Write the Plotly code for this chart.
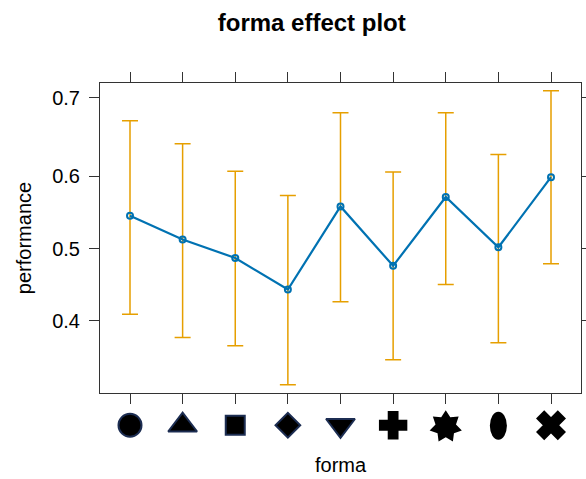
import numpy as np
import plotly.graph_objects as go

# ---- data ----
forma_levels = ["circle", "triangle", "square", "diamond", "triangle_down",
                "cross", "star", "ellipse", "x"]
fit = [0.546, 0.513, 0.487, 0.443, 0.559, 0.476, 0.572, 0.502, 0.599]
lower = [0.409, 0.378, 0.367, 0.318, 0.426, 0.349, 0.450, 0.371, 0.479]
upper = [0.672, 0.643, 0.607, 0.574, 0.682, 0.606, 0.682, 0.629, 0.708]
y_tick_values = [0.4, 0.5, 0.6, 0.7]
y_tick_labels = ["0.4", "0.5", "0.6", "0.7"]
y_limits = [0.308, 0.717]

def logit(p):
    p = np.asarray(p, dtype=float)
    return np.log(p / (1 - p))

xs = np.arange(1, len(forma_levels) + 1)
lf, ll, lu = logit(fit), logit(lower), logit(upper)
ylo, yhi = logit(y_limits)

BLUE = "#0072B2"
ORANGE = "#E69F00"
NAVY = "#1c2d52"
FONT = "Liberation Sans, Arial, sans-serif"

fig = go.Figure()

# error bars (drawn first, under the line)
fig.add_trace(go.Scatter(
    x=xs, y=lf, mode="markers",
    marker=dict(size=1, opacity=0),
    error_y=dict(type="data", symmetric=False, array=lu - lf, arrayminus=lf - ll,
                 color=ORANGE, thickness=1.5, width=8),
    hoverinfo="skip", showlegend=False))

# fitted line
fig.add_trace(go.Scatter(
    x=xs, y=lf, mode="lines+markers",
    line=dict(color=BLUE, width=2.2),
    marker=dict(symbol="circle-open", size=6, color=BLUE, line=dict(width=2, color=BLUE)),
    showlegend=False))

# level glyphs used as tick labels, in a thin band (yaxis2) under the plot
sym_map = {"circle": "circle", "triangle": "triangle-up", "square": "square",
           "diamond": "diamond", "triangle_down": "triangle-down", "cross": "cross",
           "x": "x"}
size_map = {"circle": 23, "triangle": 25, "square": 19, "diamond": 19,
            "triangle_down": 25, "cross": 22, "x": 24}
outline_map = {"circle": NAVY, "triangle": NAVY, "square": NAVY, "diamond": NAVY,
               "triangle_down": NAVY, "cross": "#000000", "x": "#000000"}
sel = [i for i, f in enumerate(forma_levels) if f in sym_map]
GLYPH_Y = 0.38
fig.add_trace(go.Scatter(
    x=xs[sel], y=[GLYPH_Y] * len(sel), mode="markers", xaxis="x", yaxis="y2",
    opacity=1,
    marker=dict(symbol=[sym_map[forma_levels[i]] for i in sel],
                size=[size_map[forma_levels[i]] for i in sel],
                color="#000000", opacity=1,
                line=dict(width=2, color=[outline_map[forma_levels[i]] for i in sel])),
    hoverinfo="skip", showlegend=False))

shapes = []
# ellipse glyph
ix_e = forma_levels.index("ellipse") + 1
shapes.append(dict(type="circle", xref="x", yref="y2", xsizemode="pixel", ysizemode="pixel",
                   xanchor=ix_e, yanchor=GLYPH_Y, x0=-8.5, x1=8.5, y0=-14.5, y1=13.5,
                   fillcolor="black", line=dict(width=0)))
# 7-point star glyph
ix_s = forma_levels.index("star") + 1
n, R, r = 7, 16.5, 10.5
ang = np.pi / 2 + np.arange(2 * n) * np.pi / n
rad = np.where(np.arange(2 * n) % 2 == 0, R, r)
pts = ["%.2f,%.2f" % (rr * np.cos(a), rr * np.sin(a) - 1.5) for rr, a in zip(rad, ang)]
shapes.append(dict(type="path", xref="x", yref="y2", xsizemode="pixel", ysizemode="pixel",
                   xanchor=ix_s, yanchor=GLYPH_Y, path="M" + "L".join(pts) + "Z",
                   fillcolor="black", line=dict(width=0)))

axis_common = dict(showline=True, linecolor="#333333", linewidth=1, mirror="ticks",
                   ticks="outside", ticklen=10, tickcolor="#333333", showgrid=False,
                   zeroline=False)

# paper area: top 83px, bottom 445px; main panel ends at 393px
TOP, BOT, PANEL_BOT = 83, 445, 393
split = (BOT - PANEL_BOT) / (BOT - TOP)
x_title_y = -(465 - BOT) / (BOT - TOP)

fig.update_layout(
    width=586, height=479,
    margin=dict(l=100, r=5, t=TOP, b=479 - BOT),
    paper_bgcolor="white", plot_bgcolor="white",
    font=dict(family=FONT, size=20, color="black"),
    title=dict(text="<b>forma effect plot</b>", x=0.532, xref="container", xanchor="center",
               y=0.952, yref="container", yanchor="middle",
               font=dict(family=FONT, size=24, color="black")),
    xaxis=dict(range=[0.43, 9.57], tickvals=xs, ticktext=[" "] * len(xs), anchor="y",
               automargin=False, **axis_common),
    yaxis=dict(domain=[split, 1], range=[ylo, yhi], tickvals=logit(y_tick_values),
               ticktext=y_tick_labels, ticklabelstandoff=5,
               title=dict(text="performance", standoff=15, font=dict(size=20)),
               automargin=False, **axis_common),
    yaxis2=dict(domain=[0, split], range=[0, 1], visible=False, fixedrange=True),
    shapes=shapes,
    annotations=[dict(text="forma", xref="paper", yref="paper", x=0.5, y=x_title_y,
                      xanchor="center", yanchor="middle", showarrow=False,
                      font=dict(family=FONT, size=20, color="black"))],
)

fig.write_html("out.html", config={"staticPlot": True, "displayModeBar": False},
               post_script="document.body.style.margin='0px';")
